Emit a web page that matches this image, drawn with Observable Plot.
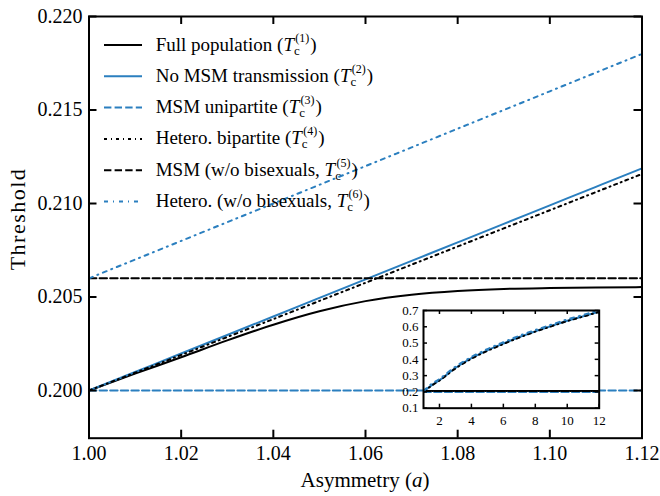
<!DOCTYPE html>
<html><head><meta charset="utf-8">
<script src="https://cdn.jsdelivr.net/npm/d3@7"></script>
<script src="https://cdn.jsdelivr.net/npm/@observablehq/plot@0.6"></script>
<style>
html,body{margin:0;padding:0;background:#fff;}
#wrap{position:relative;width:660px;height:496px;overflow:hidden;}
#wrap svg{position:absolute;left:0;top:0;}
</style></head><body><div id="wrap"></div>
<script>
// ---- data ----
const asym = [1.00,1.01,1.02,1.03,1.04,1.05,1.06,1.07,1.08,1.09,1.10,1.11,1.12];
const fullPop    = [0.2000,0.2009,0.20178,0.20268,0.20352,0.20424,0.20478,0.20512,0.20532,0.20543,0.20548,0.20551,0.20553];
const noMSM      = [0.2000,0.20099,0.20198,0.20297,0.20396,0.20495,0.20594,0.20693,0.20792,0.20891,0.2099,0.21089,0.21188];
const msmUni     = [0.2000,0.2000,0.2000,0.2000,0.2000,0.2000,0.2000,0.2000,0.2000,0.2000,0.2000,0.2000,0.2000];
const heteroBi   = [0.2000,0.20095,0.2019,0.20286,0.20382,0.20479,0.20576,0.20673,0.2077,0.20867,0.20964,0.21061,0.21158];
const msmNoBi    = [0.2060,0.2060,0.2060,0.2060,0.2060,0.2060,0.2060,0.2060,0.2060,0.2060,0.2060,0.2060,0.2060];
const heteroNoBi = [0.2060,0.2070,0.2080,0.2090,0.2100,0.2110,0.2120,0.2130,0.2140,0.2150,0.2160,0.2170,0.2180];

const asymInset       = [1,1.5,2,3,4,5,6,7,8,9,10,11,12];
const fullPopInset    = [0.200,0.2052,0.2056,0.2056,0.2056,0.2056,0.2056,0.2056,0.2056,0.2056,0.2056,0.2056,0.2056];
const noMSMInset      = [0.200,0.240,0.272,0.347,0.407,0.455,0.497,0.537,0.572,0.605,0.637,0.665,0.693];
const msmUniInset     = [0.200,0.200,0.200,0.200,0.200,0.200,0.200,0.200,0.200,0.200,0.200,0.200,0.200];
const heteroBiInset   = [0.200,0.238,0.270,0.344,0.404,0.452,0.494,0.534,0.570,0.603,0.635,0.663,0.691];
const msmNoBiInset    = [0.206,0.206,0.206,0.206,0.206,0.206,0.206,0.206,0.206,0.206,0.206,0.206,0.206];
const heteroNoBiInset = [0.206,0.248,0.280,0.355,0.415,0.463,0.505,0.545,0.580,0.613,0.645,0.673,0.701];

const seriesLabels = ["Full population (","No MSM transmission (","MSM unipartite (","Hetero. bipartite (","MSM (w/o bisexuals, ","Hetero. (w/o bisexuals, "];
const seriesIndex  = ["1","2","3","4","5","6"];
const xTicks = [1.00,1.02,1.04,1.06,1.08,1.10,1.12];
const yTicks = [0.200,0.205,0.210,0.215,0.220];
const insetXTicks = [2,4,6,8,10,12];
const insetYTicks = [0.1,0.2,0.3,0.4,0.5,0.6,0.7];

// ---- styles ----
const BLUE = "#2b7fbf";
const styles = [
  {stroke:"#000", dash:null},
  {stroke:BLUE, dash:null},
  {stroke:BLUE, dash:"7.4,3.2"},
  {stroke:"#000", dash:"3,4,1,4"},
  {stroke:"#000", dash:"7.4,3.2"},
  {stroke:BLUE, dash:"4,5,1,5"}
];
const mainSeries  = [fullPop,noMSM,msmUni,heteroBi,msmNoBi,heteroNoBi];
const insetSeries = [fullPopInset,noMSMInset,msmUniInset,heteroBiInset,msmNoBiInset,heteroNoBiInset];
const FONT = "'Liberation Serif', serif";

const mkLine = (xs, ys, st, extra={}) => Plot.line(xs.map((x,i)=>({x, y: ys[i]})),
  {x:"x", y:"y", stroke: st.stroke, strokeWidth: 2, strokeDasharray: st.dash ?? undefined, curve:"monotone-x", ...extra});

const W = 660, H = 496, mL = 88.5, mR = 18.5, mT = 16, mB = 58.3;
const pw = W - mL - mR, ph = H - mT - mB;
const TL = 8;

const main = Plot.plot({
  width: W, height: H, marginLeft: mL, marginRight: mR, marginTop: mT, marginBottom: mB,
  x: {domain: [1.00, 1.12]},
  y: {domain: [0.19745, 0.220]},
  style: {fontFamily: FONT, fontSize: "20px", background: "transparent", color: "#000", overflow: "visible"},
  marks: [
    ...mainSeries.map((s, i) => mkLine(asym, s, styles[i])),
    Plot.axisX(xTicks, {tickSize: 0, tickPadding: 8, tickFormat: d => d.toFixed(2), fontSize: 20, label: null}),
    Plot.axisY(yTicks, {tickSize: 0, tickPadding: 6.5, tickFormat: d => d.toFixed(3), fontSize: 20, label: null}),
    Plot.ruleX(xTicks, {x: d => d, insetTop: ph - TL, strokeWidth: 2}),
    Plot.ruleX(xTicks, {x: d => d, insetBottom: ph - TL, strokeWidth: 2}),
    Plot.ruleY(yTicks, {y: d => d, insetRight: pw - TL, strokeWidth: 2}),
    Plot.ruleY(yTicks, {y: d => d, insetLeft: pw - TL, strokeWidth: 2}),
    Plot.frame({strokeWidth: 2})
  ]
});

// inset
const iL = 423, iT = 310, iW = 175.7, iH = 97.7;
const imL = 34, imT = 6, imR = 6, imB = 24;
const ITL = 4;
const inset = Plot.plot({
  width: iW + imL + imR, height: iH + imT + imB,
  marginLeft: imL, marginRight: imR, marginTop: imT, marginBottom: imB,
  x: {domain: [1, 12]},
  y: {domain: [0.1, 0.7]},
  style: {fontFamily: FONT, fontSize: "13px", background: "transparent", color: "#000", overflow: "visible"},
  marks: [
    Plot.frame({fill: "white", stroke: null}),
    ...insetSeries.map((s, i) => mkLine(asymInset, s, styles[i], {clip: true})),
    Plot.axisX(insetXTicks, {tickSize: 0, tickPadding: 8, fontSize: 13, label: null}),
    Plot.axisY(insetYTicks, {tickSize: 0, tickPadding: 5, tickFormat: d => d.toFixed(1), fontSize: 13, label: null}),
    Plot.ruleX(insetXTicks, {x: d => d, insetTop: iH - ITL, strokeWidth: 1.5}),
    Plot.ruleX(insetXTicks, {x: d => d, insetBottom: iH - ITL, strokeWidth: 1.5}),
    Plot.ruleY(insetYTicks, {y: d => d, insetRight: iW - ITL, strokeWidth: 1.5}),
    Plot.ruleY(insetYTicks, {y: d => d, insetLeft: iW - ITL, strokeWidth: 1.5}),
    Plot.frame({strokeWidth: 2})
  ]
});
inset.style.left = (iL - imL) + "px";
inset.style.top = (iT - imT) + "px";

// overlay: axis titles and legend
const ov = d3.create("svg").attr("width", W).attr("height", H)
  .style("font-family", FONT).style("pointer-events", "none");

const xl = ov.append("text").attr("x", 365).attr("y", 486.7).attr("text-anchor", "middle").attr("font-size", 21);
xl.append("tspan").text("Asymmetry (");
xl.append("tspan").attr("font-style", "italic").text("a");
xl.append("tspan").text(")");

ov.append("text").attr("transform", "translate(25,219) rotate(-90)").attr("text-anchor", "middle")
  .attr("font-size", 22).attr("letter-spacing", 1.5).text("Threshold");

const lg = ov.append("g");
seriesLabels.forEach((lab, i) => {
  const cy = 45 + i * 31.3;
  const st = styles[i];
  lg.append("line").attr("x1", 104).attr("x2", 142).attr("y1", cy).attr("y2", cy)
    .attr("stroke", st.stroke).attr("stroke-width", 2).attr("stroke-dasharray", st.dash);
  const t = lg.append("text").attr("x", 155.7).attr("y", cy + 5.5).attr("font-size", 19);
  t.append("tspan").text(lab);
  t.append("tspan").attr("font-style", "italic").text("T");
  t.append("tspan").attr("font-size", 13).attr("dy", 4).text("c");
  t.append("tspan").attr("font-size", 12).attr("dx", -4.5).attr("dy", -13).text("(" + seriesIndex[i] + ")");
  t.append("tspan").attr("dy", 9).attr("dx", 1).text(")");
});

const wrap = document.getElementById("wrap");
wrap.appendChild(main);
wrap.appendChild(inset);
wrap.appendChild(ov.node());
</script>
</body></html>
